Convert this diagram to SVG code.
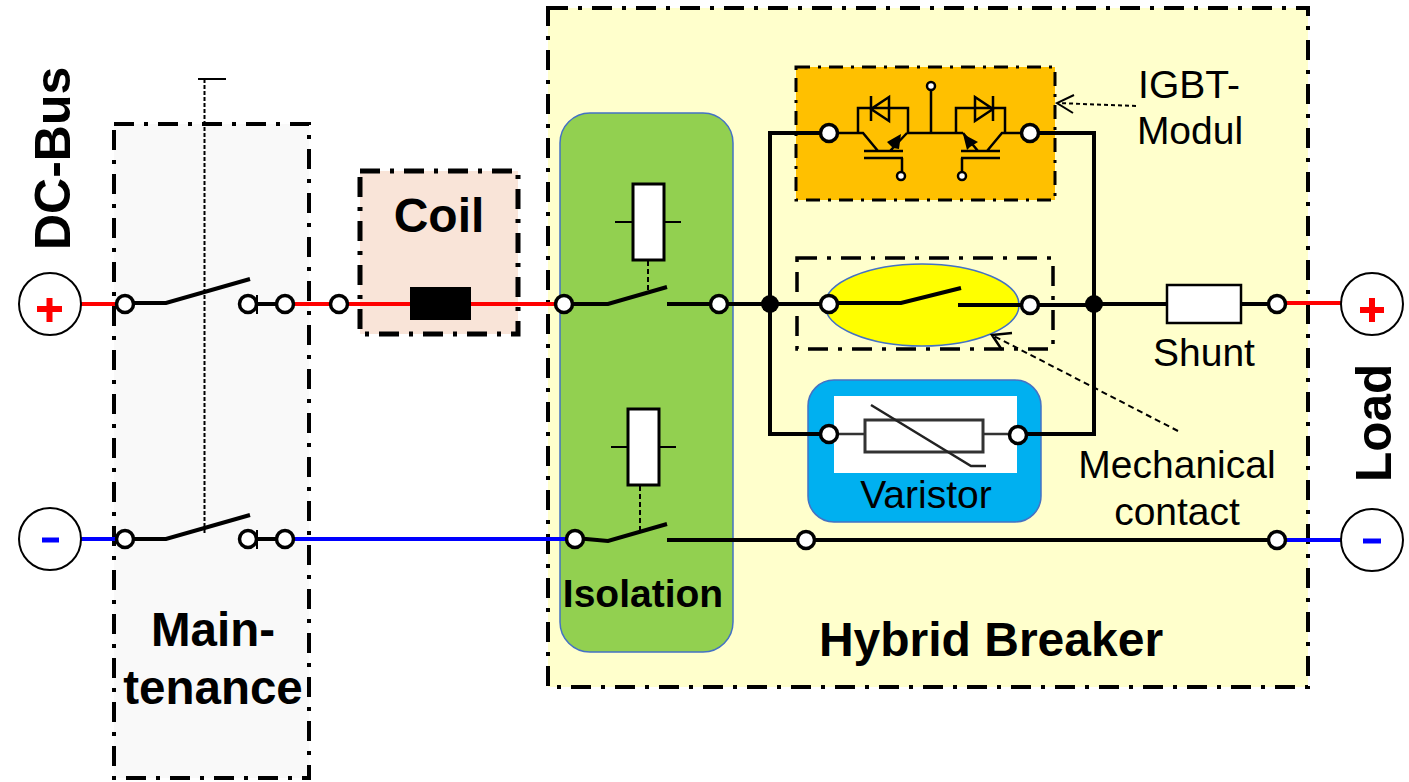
<svg xmlns="http://www.w3.org/2000/svg" width="1409" height="782" viewBox="0 0 1409 782">
<defs>
<style>
text{font-family:"Liberation Sans",Arial,sans-serif;fill:#000}
.b{font-weight:700}
.dd{fill:none;stroke:#000;stroke-width:4;stroke-dasharray:20 10 4 10}
.w{fill:none;stroke:#000;stroke-width:4}
.t{fill:none;stroke:#000;stroke-width:2}
.s{fill:none;stroke:#000;stroke-width:2.500}
.c{fill:#fff;stroke:#000;stroke-width:3.500}
.k{fill:#fff;stroke:#000;stroke-width:2.500}
.m{fill:#fff;stroke:#000;stroke-width:3}
.d{fill:none;stroke:#000;stroke-width:2;stroke-dasharray:5 3}
.j{fill:#000}
</style>
</defs>
<g id="hybrid-breaker"><rect x="548" y="8" width="760" height="679" fill="#ffffcc"/><rect x="548" y="8" width="760" height="679" class="dd"/><text x="991" y="656" font-size="48" text-anchor="middle" class="b">Hybrid Breaker</text></g>
<g id="maintenance"><rect x="114" y="124" width="195" height="654" fill="#f9f9f9"/><rect x="114" y="124" width="195" height="654" class="dd"/><text x="213" y="646" font-size="47.500" text-anchor="middle" class="b">Main-</text><text x="213" y="704" font-size="47.500" text-anchor="middle" class="b">tenance</text></g>
<g id="coil"><rect x="360" y="171" width="158" height="163" fill="#f9e4d8"/><rect x="360" y="171" width="158" height="163" fill="none" stroke="#000" stroke-width="5" stroke-dasharray="20 10 4 10"/><text x="439" y="232" font-size="48" text-anchor="middle" class="b">Coil</text></g>
<g id="isolation"><rect x="560" y="113" width="173" height="539" rx="30" fill="#92d050" stroke="#4472c4" stroke-width="1.500"/><text x="643" y="607" font-size="39" text-anchor="middle" class="b">Isolation</text></g>
<g id="igbt-modul"><rect x="796" y="67" width="259" height="133" fill="#ffc000"/><rect x="796" y="67" width="259" height="133" fill="none" stroke="#000" stroke-width="3" stroke-dasharray="14 8 3 8"/></g>
<g id="mechanical-box"><rect x="797" y="258" width="256" height="91" fill="none" stroke="#000" stroke-width="3.500" stroke-dasharray="20 10 4 10"/><ellipse cx="922" cy="305" rx="97" ry="41" fill="#ffff00" stroke="#4472c4" stroke-width="1.500"/></g>
<g id="varistor"><rect x="808" y="380" width="233" height="142" rx="26" fill="#00b0f0" stroke="#4472c4" stroke-width="1.500"/><rect x="834" y="396" width="183" height="77" fill="#fff"/><text x="926" y="508" font-size="39" text-anchor="middle">Varistor</text></g>
<g id="connectors">
<path d="M81 304H125M285 304H565M1277 303H1342" fill="none" stroke="#ff0000" stroke-width="4"/>
<path d="M81 539H125M285 539H575M1277 540H1342" fill="none" stroke="#0000ff" stroke-width="4"/>
<path class="w" d="M125 303H166L250 279M125 539H166L250 515M250 304H285M250 539H285"/>
<path class="t" d="M198 79H226"/><path d="M204.500 79V535" fill="none" stroke="#000" stroke-width="2" stroke-dasharray="4 2"/>
<path class="w" d="M565 304H608L667 287M667 304H770M575 538L608 541L667 524M667 540H1277"/>
<path class="d" d="M648 261V290M640 486V532"/>
<path class="w" d="M770 304V133H828M770 304V434H829M770 304H829M829 303H901L961 288M958 305H1030M1030 305H1094M1094 305V133H1030M1094 305V434H1018M1094 304H1167M1241 304H1277"/>
<path d="M829 434H865M983 434H1018" stroke="#333" stroke-width="2.500" fill="none"/>
</g>
<g id="igbt-symbol">
<path class="s" d="M829 133H858V108H908V133M1030 133H1005V108H956V133M931 86V133M907 133H963M858 133H863L878 151M1005 133H1002L987 151M907 133L890 151M963 133L978 151M864 151H903M864 158H903M961 151H1000M961 158H1000M902 158V176M962 158V176M871 96V121M993 96V121M889 97V121L871 109ZM975 97V121L993 109Z"/>
<path class="j" d="M901 134L887 142L893 148L899 149ZM963 134L978 142L970 147L967 150Z"/>
<circle cx="931" cy="86" r="4" class="k"/><circle cx="901" cy="176" r="4" class="k"/><circle cx="962" cy="176" r="4" class="k"/>
</g>
<g id="isolators">
<rect x="633" y="184" width="31" height="76" class="m"/><path class="t" d="M615 222H633M664 222H681"/>
<rect x="628" y="409" width="31" height="76" class="m"/><path class="t" d="M611 447H628M659 447H676"/>
</g>
<g id="coil-core"><rect x="410" y="287" width="61" height="33" fill="#000"/></g>
<g id="varistor-symbol"><rect x="865" y="420" width="118" height="32" fill="#fff" stroke="#333" stroke-width="3"/><path d="M871 405L971 466H986" fill="none" stroke="#222" stroke-width="2.500"/></g>
<g id="shunt"><rect x="1167" y="285" width="74" height="38" class="k"/><text x="1204" y="366" font-size="39" text-anchor="middle">Shunt</text></g>
<g id="terminals">
<circle cx="125" cy="304" r="8.500" class="c"/><circle cx="248" cy="304" r="8.500" class="c"/><circle cx="285" cy="304" r="8.500" class="c"/><circle cx="339" cy="304" r="8.500" class="c"/>
<path class="t" d="M257 295V314M257 530V549"/>
<circle cx="125" cy="539" r="8.500" class="c"/><circle cx="248" cy="539" r="8.500" class="c"/><circle cx="285" cy="539" r="8.500" class="c"/>
<circle cx="564" cy="304" r="8.500" class="c"/><circle cx="719" cy="304" r="8.500" class="c"/><circle cx="575" cy="539" r="8.500" class="c"/><circle cx="806" cy="540" r="8.500" class="c"/><circle cx="1277" cy="540" r="8.500" class="c"/><circle cx="1277" cy="304" r="8.500" class="c"/>
<circle cx="829" cy="133" r="8.500" class="c"/><circle cx="1030" cy="133" r="8.500" class="c"/><circle cx="829" cy="304" r="8.500" class="c"/><circle cx="1030" cy="305" r="8.500" class="c"/><circle cx="829" cy="434" r="8.500" class="c"/><circle cx="1018" cy="435" r="8.500" class="c"/>
<circle cx="770" cy="304" r="9" class="j"/><circle cx="1094" cy="304" r="9" class="j"/>
</g>
<g id="dc-bus"><circle cx="50" cy="304" r="31" fill="#fff" stroke="#000" stroke-width="2"/><path d="M37 309H62M49.500 298V322" stroke="#ff0000" stroke-width="6" fill="none"/><circle cx="50" cy="539" r="31" fill="#fff" stroke="#000" stroke-width="2"/><path d="M42 540H59" stroke="#0000ff" stroke-width="5"/><text transform="translate(70 250) rotate(-90)" font-size="50" class="b">DC-Bus</text></g>
<g id="load"><circle cx="1372" cy="304" r="31" fill="#fff" stroke="#000" stroke-width="2"/><path d="M1360 310H1384M1372 298V322" stroke="#ff0000" stroke-width="6" fill="none"/><circle cx="1372" cy="540" r="31" fill="#fff" stroke="#000" stroke-width="2"/><path d="M1363 541H1381" stroke="#0000ff" stroke-width="5"/><text transform="translate(1391 482) rotate(-90)" font-size="49.500" class="b">Load</text></g>
<g id="labels">
<text x="1189" y="98" font-size="39" text-anchor="middle">IGBT-</text><text x="1190" y="144" font-size="39" text-anchor="middle">Modul</text>
<text x="1177" y="478" font-size="39" text-anchor="middle">Mechanical</text><text x="1177" y="525" font-size="39" text-anchor="middle">contact</text>
<path d="M1136 106L1057 103" class="t" stroke-dasharray="4 3"/><path d="M1074 95L1057 103L1073 113" class="t"/>
<path d="M1178 431L992 335" class="t" stroke-dasharray="6 4"/><path d="M1012 333L992 335L1002 350" class="s"/>
</g>
</svg>
